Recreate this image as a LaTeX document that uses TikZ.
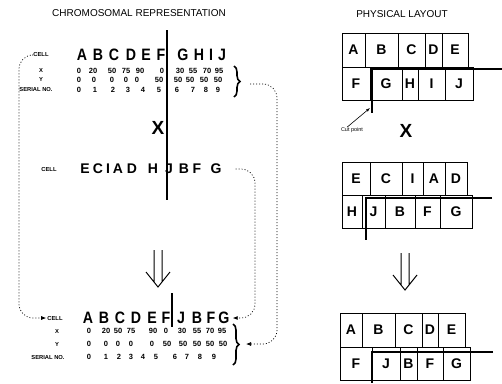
\documentclass[tikz,border=0pt]{standalone}
\usepackage{fontspec}
\setmainfont{Liberation Sans}
\newfontfamily\genefont{Liberation Sans}[FakeStretch=0.86]
\usetikzlibrary{arrows.meta, decorations.pathreplacing}

\begin{document}
\begin{tikzpicture}[x=1pt, y=-1pt,
    heading/.style={font=\fontsize{10}{12}\selectfont},
    gene/.style={font=\genefont\fontsize{16.5}{18}\selectfont\bfseries, inner sep=0pt},
    genesm/.style={font=\fontsize{14}{16}\selectfont\bfseries, inner sep=0pt},
    num/.style={font=\fontsize{7.5}{9}\selectfont\bfseries, inner sep=0pt},
    rowlbl/.style={font=\fontsize{5.8}{7}\selectfont\bfseries, inner sep=1pt},
    cross/.style={font=\fontsize{19}{21}\selectfont\bfseries, inner sep=0pt},
    slot/.style={draw, line width=0.8pt, anchor=north west, inner sep=0pt, outer sep=0pt,
                 minimum height=33pt, font=\fontsize{14}{16}\selectfont\bfseries},
    cut/.style={line width=1.8pt},
    link/.style={dash pattern=on 1pt off 2pt, line width=0.7pt, rounded corners=14pt,
                 -{Latex[length=5pt, width=4pt]}},
    brc/.style={decorate, decoration={brace, amplitude=6pt}, line width=1.6pt},
    dnarrow/.pic={\draw[line width=1pt] (-4,0) -- (-4,32) (4,0) -- (4,32) (-12,22) -- (0,37) -- (12,22);}
  ]
  \useasboundingbox (0,0) rectangle (502,383);

  % Headings
  \node[heading] (chromtitle) at (139,13) {CHROMOSOMAL REPRESENTATION};
  \node[heading] (phystitle) at (402,14) {PHYSICAL LAYOUT};

  % First parent
  \node[rowlbl] (tcell) at (41,55) {CELL};
  \node[rowlbl] (tx) at (41,71) {X};
  \node[rowlbl] (ty) at (41,80) {Y};
  \node[rowlbl] (tsn) at (36,90) {SERIAL NO.};
  \foreach \px/\t [count=\i] in {82/A, 98/B, 114/C, 131/D, 146/E, 161/F, 183/G, 199/H, 211/I, 222/J}
    \node[gene] (ta\i) at (\px,55) {\t};
  \foreach \px/\t [count=\i] in {79/0, 93/20, 112/50, 126/75, 140/90, 162/0, 180/30, 193/55, 207/70, 219/95}
    \node[num] (tx\i) at (\px,71) {\t};
  \foreach \px/\t [count=\i] in {79/0, 94/0, 112/0, 126/0, 137/0, 159/50, 178/50, 190/50, 204/50, 218/50}
    \node[num] (ty\i) at (\px,80) {\t};
  \foreach \px/\t [count=\i] in {79/0, 95/1, 113/2, 128/3, 143/4, 159/5, 177/6, 193/7, 206/8, 218/9}
    \node[num] (ts\i) at (\px,90) {\t};
  \draw[brc] (234,66) -- (234,97);
  \coordinate (tbr) at (250,84);

  \draw[cut] (167,30) -- (167,200);
  \node[cross] (cross1) at (158,128) {X};

  % Second parent
  \node[rowlbl] (mcell) at (49,169) {CELL};
  \foreach \px/\t [count=\i] in {85/E, 98/C, 108/I, 118/A, 132/D, 153/H, 169/J, 184/B, 197/F, 216/G}
    \node[genesm] (ma\i) at (\px,169) {\t};

  \pic at (158,250) {dnarrow};

  % Offspring
  \node[rowlbl] (bcell) at (55,318) {CELL};
  \node[rowlbl] (bx) at (57,331) {X};
  \node[rowlbl] (by) at (57,344) {Y};
  \node[rowlbl] (bsn) at (48,357) {SERIAL NO.};
  \foreach \px/\t [count=\i] in {88/A, 104/B, 120/C, 136/D, 152/E, 166/F, 181/J, 197/B, 211/F, 224/G}
    \node[gene] (ba\i) at (\px,318) {\t};
  \foreach \px/\t [count=\i] in {89/0, 106/20, 118/50, 131/75, 153/90, 166/0, 182/30, 197/55, 210/70, 222/95}
    \node[num] (bx\i) at (\px,331) {\t};
  \foreach \px/\t [count=\i] in {89/0, 106/0, 118/0, 131/0, 152/0, 167/50, 183/50, 197/50, 210/50, 223/50}
    \node[num] (by\i) at (\px,344) {\t};
  \foreach \px/\t [count=\i] in {89/0, 106/1, 119/2, 131/3, 143/4, 156/5, 175/6, 187/7, 200/8, 214/9}
    \node[num] (bs\i) at (\px,357) {\t};
  \draw[brc] (233,324) -- (233,365);
  \coordinate (bbr) at (246,344);
  \draw[cut] (172,293) -- (172,327);

  % Copy links
  \draw[link] (tcell.west) -| (19,318) -- (bcell.west);
  \draw[link] ([xshift=14pt]ma10.east) -| (255,318) -- ([xshift=3pt]ba10.east);
  \draw[link] (tbr) -| (277,344) -- (bbr);

  % Physical layout, first parent
  \foreach \l/\w/\t [count=\i] in {342/23/A, 365/33/B, 398/27/C, 425/17/D, 442/26/E}
    \node[slot, minimum width=\w*1pt, minimum height=34pt] (pa\i) at (\l,33) {\t};
  \foreach \l/\w/\t [count=\i] in {342/28/F, 370/32/G, 402/16/H, 418/27/I, 445/28/J}
    \node[slot, minimum width=\w*1pt] (pb\i) at (\l,67) {\t};
  \draw[cut] (502,69) -| (372,113);
  \coordinate (cp) at (370,108);
  \node[font=\fontsize{5.5}{6}\selectfont, inner sep=0pt] (cutlbl) at (352,130) {Cut point};
  \draw[line width=0.6pt, -{Latex[length=4pt, width=3pt]}] ([xshift=-5pt]cutlbl.north) -- (cp);

  \node[cross] (cross2) at (406,131) {X};

  % Physical layout, second parent
  \foreach \l/\w/\t [count=\i] in {342/28/E, 370/32/C, 402/21/I, 423/22/A, 445/22/D}
    \node[slot, minimum width=\w*1pt] (qa\i) at (\l,162) {\t};
  \foreach \l/\w/\t [count=\i] in {342/20/H, 362/23/J, 385/30/B, 415/25/F, 440/32/G}
    \node[slot, minimum width=\w*1pt] (qb\i) at (\l,195) {\t};
  \draw[cut] (492,198) -| (366,240);

  \pic at (405,253) {dnarrow};

  % Physical layout, offspring
  \foreach \l/\w/\t [count=\i] in {340/22/A, 362/33/B, 395/27/C, 422/16/D, 438/27/E}
    \node[slot, minimum width=\w*1pt, minimum height=34pt] (ra\i) at (\l,313) {\t};
  \foreach \l/\w/\t [count=\i] in {340/32/F, 372/28/J, 400/17/B, 417/26/F, 443/27/G}
    \node[slot, minimum width=\w*1pt] (rb\i) at (\l,347) {\t};
  \draw[cut] (493,352) -| (372,383);
\end{tikzpicture}
\end{document}
